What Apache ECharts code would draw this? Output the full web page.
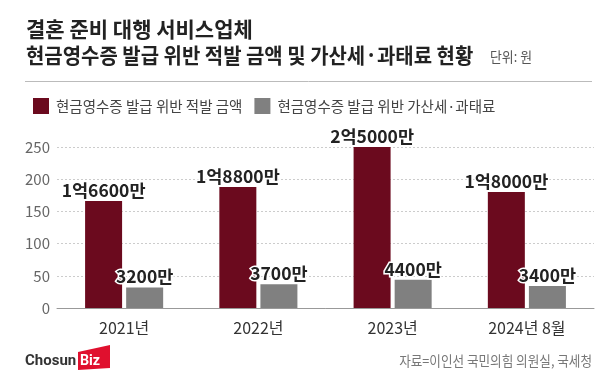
<!DOCTYPE html>
<html>
<head>
<meta charset="utf-8">
<script src="https://cdn.jsdelivr.net/npm/echarts@6/dist/echarts.min.js"></script>
<style>
html,body{margin:0;padding:0;background:#fff;}
#chart{width:616px;height:382px;}
</style>
</head>
<body>
<div id="chart"></div>
<script>
const categories = ['2021년', '2022년', '2023년', '2024년 8월'];
const seriesNames = ['현금영수증 발급 위반 적발 금액', '현금영수증 발급 위반 가산세·과태료'];
const detectedAmount = [166, 188, 250, 180];
const penaltyAmount = [32, 37, 44, 34];
const detectedLabels = ['1억6600만', '1억8800만', '2억5000만', '1억8000만'];
const penaltyLabels = ['3200만', '3700만', '4400만', '3400만'];
const yTicks = { min: 0, max: 250, interval: 50 };
const titleLines = ['결혼 준비 대행 서비스업체', '현금영수증 발급 위반 적발 금액 및 가산세·과태료 현황'];
const unitText = '단위: 원';
const sourceText = '자료=이인선 국민의힘 의원실, 국세청';

const FONT = '"Noto Sans CJK KR", "Noto Sans", sans-serif';
const chart = echarts.init(document.getElementById('chart'), null, { renderer: 'canvas' });

const labelStyle = {
  show: true,
  position: 'top',
  distance: 2,
  fontFamily: FONT,
  fontSize: 17.5,
  fontWeight: 'bold',
  color: '#222',
  textBorderColor: '#fff',
  textBorderWidth: 3
};

chart.setOption({
  backgroundColor: '#fff',
  animation: false,
  textStyle: { fontFamily: FONT },
  grid: { left: 57, right: 22, top: 147, bottom: 74, containLabel: false },
  legend: {
    left: 28, top: 93,
    icon: 'rect',
    itemWidth: 16, itemHeight: 16, itemGap: 12,
    textStyle: { fontFamily: FONT, fontSize: 14.5, color: '#444', padding: [0, 0, 0, 2] },
    data: seriesNames
  },
  xAxis: {
    type: 'category',
    data: categories,
    axisLine: { lineStyle: { color: '#999', width: 1 } },
    axisTick: { show: false },
    axisLabel: { fontFamily: FONT, fontSize: 16, color: '#333', margin: 12 }
  },
  yAxis: {
    type: 'value',
    min: yTicks.min, max: yTicks.max, interval: yTicks.interval,
    axisLine: { show: false },
    axisTick: { show: false },
    axisLabel: { fontFamily: FONT, fontSize: 15, color: '#666', margin: 7 },
    splitLine: { lineStyle: { color: '#ccc', type: [2, 2], width: 1 } }
  },
  series: [
    {
      name: seriesNames[0], type: 'bar',
      data: detectedAmount,
      barWidth: 37, barGap: '11%',
      itemStyle: { color: '#6b0a1e' },
      label: Object.assign({}, labelStyle, { formatter: p => detectedLabels[p.dataIndex] })
    },
    {
      name: seriesNames[1], type: 'bar',
      data: penaltyAmount,
      barWidth: 37,
      itemStyle: { color: '#808080' },
      label: Object.assign({}, labelStyle, { formatter: p => penaltyLabels[p.dataIndex] })
    }
  ],
  graphic: [
    { type: 'text', x: 26, y: 29, scaleX: 1.0,
      style: { text: titleLines[0], font: 'bold 21px ' + FONT, fill: '#222', textVerticalAlign: 'middle' } },
    { type: 'text', x: 26, y: 55, scaleX: 0.95,
      style: { text: titleLines[1], font: 'bold 21px ' + FONT, fill: '#222', textVerticalAlign: 'middle' } },
    { type: 'text', x: 490, y: 57, scaleX: 0.92,
      style: { text: unitText, font: '14px ' + FONT, fill: '#555', textVerticalAlign: 'middle' } },
    { type: 'line', shape: { x1: 25, y1: 81.5, x2: 592, y2: 81.5 }, style: { stroke: '#bbb', lineWidth: 1 } },
    { type: 'text', x: 25, y: 361, scaleX: 1.0,
      style: { text: 'Chosun', font: 'bold 15px Roboto, sans-serif', fill: '#333', textVerticalAlign: 'middle' } },
    { type: 'polygon', shape: { points: [[78, 352], [110, 345], [110, 368], [78, 370]] }, style: { fill: '#e0102e' } },
    { type: 'text', x: 80, y: 361, scaleX: 0.95,
      style: { text: 'Biz', font: 'bold 15px Roboto, sans-serif', fill: '#fff', textVerticalAlign: 'middle' } },
    { type: 'text', x: 592, y: 361, scaleX: 0.9, originX: 0,
      style: { text: sourceText, font: '14px ' + FONT, fill: '#777', textAlign: 'right', textVerticalAlign: 'middle' } }
  ]
});
</script>
</body>
</html>
